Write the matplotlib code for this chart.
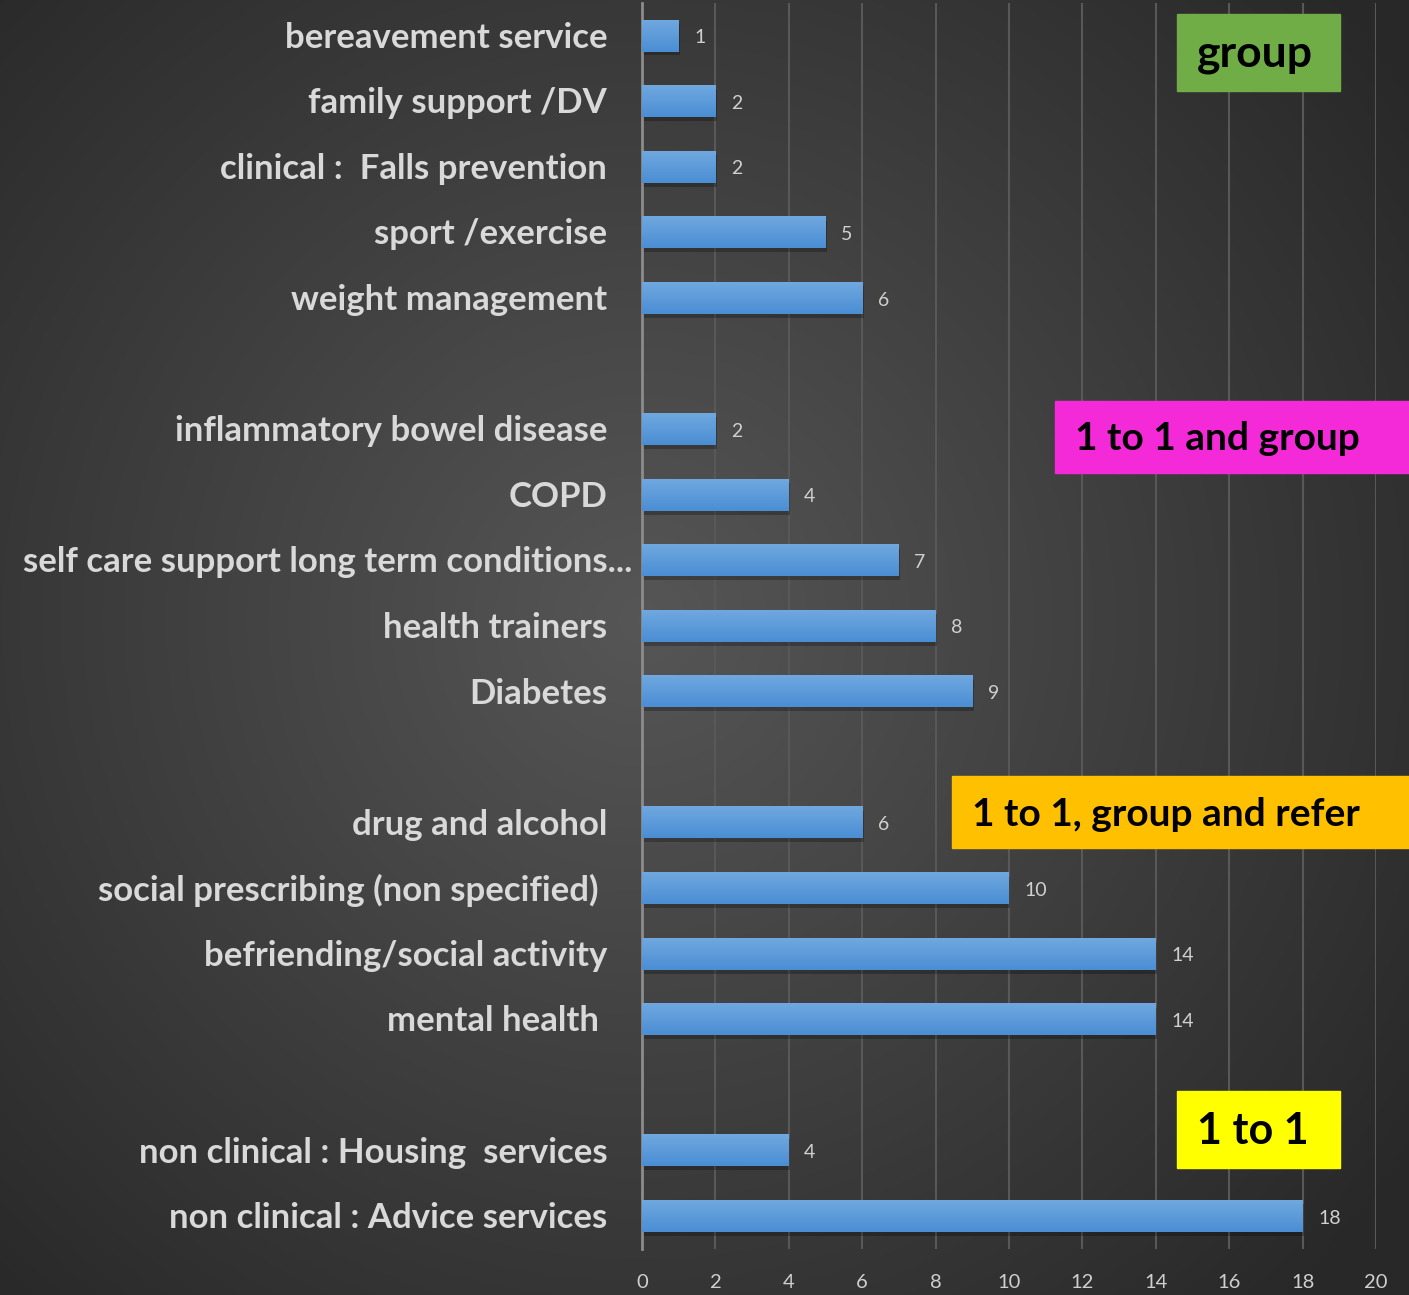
import numpy as np
import matplotlib.pyplot as plt
from matplotlib.patches import Rectangle
from matplotlib.colors import LinearSegmentedColormap

# categories top to bottom, "" = empty gap row
labels = ["bereavement service", "family support /DV", "clinical :  Falls prevention",
          "sport /exercise", "weight management", "",
          "inflammatory bowel disease", "COPD", "self care support long term conditions...",
          "health trainers", "Diabetes", "",
          "drug and alcohol", "social prescribing (non specified) ", "befriending/social activity",
          "mental health ", "",
          "non clinical : Housing  services", "non clinical : Advice services"]
values = [1, 2, 2, 5, 6, None, 2, 4, 7, 8, 9, None, 6, 10, 14, 14, None, 4, 18]
x_ticks = [0, 2, 4, 6, 8, 10, 12, 14, 16, 18, 20]

# group boxes: text, colour, box (x0, y0, x1, y1) in pixels from top-left, font size
boxes = [("group", "#70ad47", (1177, 14, 1340, 91), 32),
         ("1 to 1 and group", "#f42ad8", (1055, 401, 1409, 473), 28),
         ("1 to 1, group and refer", "#ffc000", (952, 776, 1409, 848), 28),
         ("1 to 1", "#ffff00", (1177, 1091, 1340, 1168), 31)]

W, H = 1409, 1295
plt.rcParams['font.family'] = ['Lato', 'DejaVu Sans']
fig = plt.figure(figsize=(W / 100, H / 100), dpi=100)

# radial background
bg = fig.add_axes([0, 0, 1, 1], zorder=-5)
yy, xx = np.mgrid[0:H, 0:W]
r = np.sqrt(((xx - 640) / 950.0) ** 2 + ((yy - 620) / 950.0) ** 2)
cmap_bg = LinearSegmentedColormap.from_list("bg", ["#565656", "#282828"])
bg.imshow(np.clip(r, 0, 1), cmap=cmap_bg, vmin=0, vmax=1, aspect="auto")
bg.axis("off")

ax = fig.add_axes([642 / W, 1 - 1249 / H, (1376 - 642) / W, 1246 / H])
ax.patch.set_alpha(0)
n = len(labels)

bar_cmap = LinearSegmentedColormap.from_list("bar", ["#70a8df", "#4a8ed4"])
grad = np.linspace(0, 1, 50).reshape(-1, 1)
bh = 0.48
for i, v in enumerate(values):
    if v is None:
        continue
    # shadow
    ax.add_patch(Rectangle((0.04, i - bh / 2 + 0.06), v, bh, color="black", alpha=0.25,
                           lw=0, zorder=2))
    ax.imshow(grad, cmap=bar_cmap, aspect="auto", extent=(0, v, i + bh / 2, i - bh / 2),
              zorder=3)
    ax.text(v + 0.42, i + 0.03, str(v), va="center", ha="left", fontsize=14,
            color="#d0d0d0", zorder=4)
ax.set_xlim(0, 20)
ax.set_ylim(n - 0.5, -0.5)

for i, lab in enumerate(labels):
    if not lab:
        continue
    off = 0.25 if lab.endswith("...") else 0.95
    ax.text(-off, i + 0.03, lab, ha="right", va="center", fontsize=25, fontweight="bold",
            color="#d9d9d9")

ax.set_xticks(x_ticks)
ax.set_yticks([])
ax.grid(axis="x", color="#585858", lw=1.5, zorder=0)
ax.tick_params(axis="x", length=0, pad=18, labelsize=14.5, labelcolor="#cfcfcf")
for s in ["top", "right", "bottom"]:
    ax.spines[s].set_visible(False)
ax.spines["left"].set_color("#8c8c8c")
ax.spines["left"].set_linewidth(2)
ax.set_axisbelow(True)

for text, col, (x0, y0, x1, y1), fs in boxes:
    fig.patches.append(Rectangle((x0 / W, 1 - y1 / H), (x1 - x0) / W, (y1 - y0) / H,
                                 transform=fig.transFigure, color=col, zorder=5))
    fig.text((x0 + 20) / W, 1 - ((y0 + y1) / 2 + 2) / H, text, ha="left", va="center",
             fontsize=fs, fontweight="bold", color="black", zorder=6)

fig.savefig("out.png", dpi=100)
